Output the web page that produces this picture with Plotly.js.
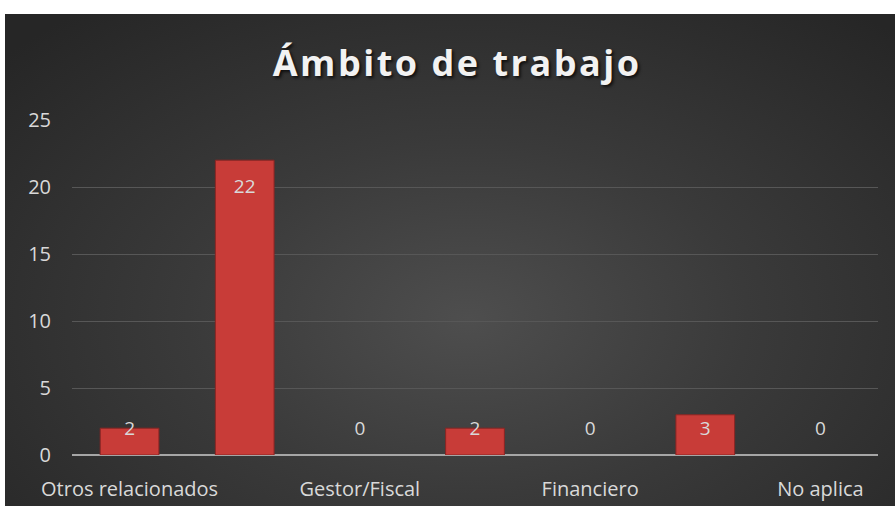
<!DOCTYPE html>
<html>
<head>
<meta charset="utf-8">
<script src="https://cdn.plot.ly/plotly-3.0.1.min.js"></script>
<style>
  html, body { margin: 0; padding: 0; background: #ffffff; width: 895px; height: 506px; overflow: hidden; }
  #chart {
    position: absolute; left: 5px; top: 14px; width: 890px; height: 492px;
    background: radial-gradient(ellipse 70% 80% at 52% 62%, #4e4e4e 0%, #3a3a3a 45%, #262626 100%);
  }
  .gtitle { letter-spacing: 2.5px; }
</style>
</head>
<body>
<div id="chart"></div>
<script>
// Data
var categories = ["Otros relacionados", "Contable", "Gestor/Fiscal", "Laboral", "Financiero", "Auditoría", "No aplica"];
var values = [2, 22, 0, 2, 0, 3, 0];
var shownTickLabels = ["Otros relacionados", "Gestor/Fiscal", "Financiero", "No aplica"];
var yTicks = [0, 5, 10, 15, 20, 25];
var titleText = "Ámbito de trabajo";

// Label positions (Excel "inside end": inside top of tall bars, floating just above the axis for short ones)
var labelY = values.map(function (v) { return v >= 5 ? v - 2.1 : 1.87; });

var bars = {
  type: "bar",
  x: categories,
  y: values,
  width: 0.51,
  marker: {
    color: "#c83c38",
    line: { color: "#8a2523", width: values.map(function (v) { return v > 0 ? 1 : 0; }) }
  },
  hoverinfo: "x+y",
  showlegend: false
};
var labels = {
  type: "scatter",
  mode: "text",
  x: categories,
  y: labelY,
  text: values.map(String),
  textfont: { family: "Open Sans, sans-serif", size: 19, color: "#d9d9d9" },
  textposition: "middle center",
  hoverinfo: "skip",
  showlegend: false
};

var layout = {
  width: 890, height: 492,
  paper_bgcolor: "rgba(0,0,0,0)",
  plot_bgcolor: "rgba(0,0,0,0)",
  margin: { l: 67, r: 17, t: 106, b: 51 },
  title: {
    text: titleText,
    font: { family: "Open Sans, sans-serif", size: 36, color: "#f2f2f2", weight: 700,
            shadow: "2px 2px 3px rgba(0,0,0,0.7)" },
    x: 0.508, xanchor: "center", xref: "container",
    y: 0.9, yanchor: "middle", yref: "container"
  },
  xaxis: {
    type: "category",
    range: [-0.5, 6.5],
    tickvals: shownTickLabels,
    ticktext: shownTickLabels,
    showgrid: false,
    zeroline: false,
    showline: false,
    ticks: "",
    ticklabelstandoff: 20,
    tickfont: { family: "Open Sans, sans-serif", size: 20, color: "#d9d9d9" }
  },
  yaxis: {
    range: [0, 25],
    tickvals: yTicks,
    showgrid: true,
    gridcolor: "#575757",
    gridwidth: 1,
    zeroline: true,
    zerolinecolor: "#a6a6a6",
    zerolinewidth: 2,
    showline: false,
    ticks: "",
    ticklabelstandoff: 20,
    tickfont: { family: "Open Sans, sans-serif", size: 20, color: "#d9d9d9" }
  },
  bargap: 0.49
};

Plotly.newPlot("chart", [bars, labels], layout, { displayModeBar: false, staticPlot: true });
</script>
</body>
</html>
